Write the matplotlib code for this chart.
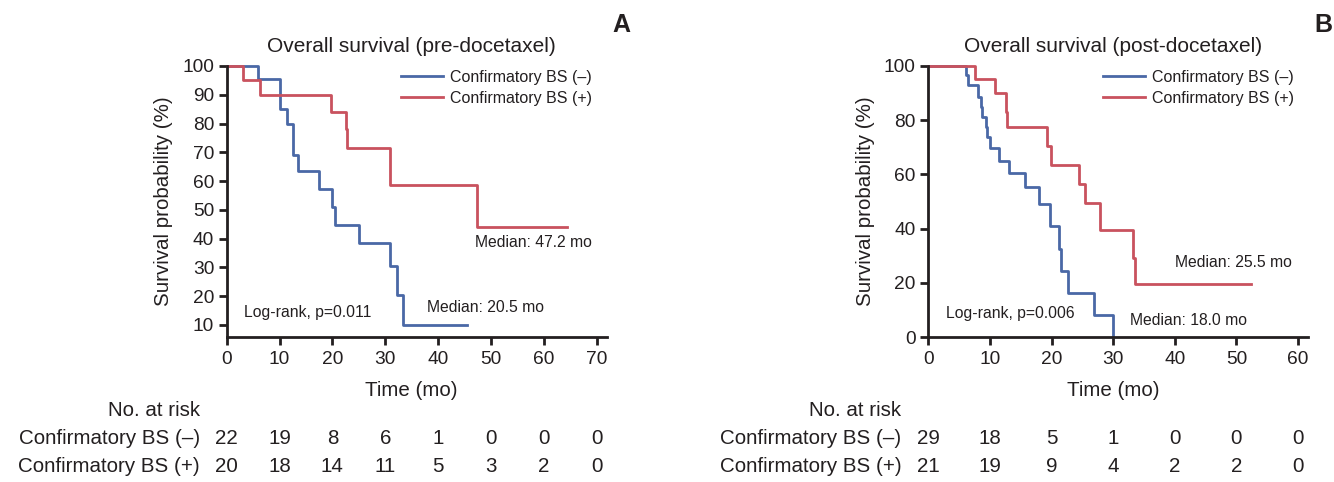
import matplotlib
matplotlib.use("Agg")
import matplotlib.pyplot as plt
from matplotlib.transforms import blended_transform_factory

plt.rcParams['font.family'] = ['Liberation Sans', 'DejaVu Sans']

# ---------------- data ----------------
groups = ["Confirmatory BS (\u2013)", "Confirmatory BS (+)"]

# Panel A (pre-docetaxel)
a_neg_t = [0, 6.0, 10.1, 11.35, 12.5, 12.6, 13.4, 17.5, 19.9, 20.4, 25.1, 30.8, 32.2, 33.3, 45.4]
a_neg_s = [100, 95.5, 85, 80, 74, 69, 63.6, 57.3, 51.1, 44.8, 38.4, 30.5, 20.3, 10, 10]
a_pos_t = [0, 3.1, 6.3, 19.7, 22.5, 22.8, 30.8, 47.3, 64.3]
a_pos_s = [100, 95, 90, 84.1, 78, 71.6, 58.6, 43.9, 43.9]
a_risk_t = [0, 10, 20, 30, 40, 50, 60, 70]
a_risk_neg = [22, 19, 8, 6, 1, 0, 0, 0]
a_risk_pos = [20, 18, 14, 11, 5, 3, 2, 0]
a_yticks = [10, 20, 30, 40, 50, 60, 70, 80, 90, 100]

# Panel B (post-docetaxel)
b_neg_t = [0, 6.1, 6.4, 8.1, 8.5, 8.65, 9.3, 9.5, 10.0, 11.5, 13.1, 15.7, 17.95, 19.7, 21.2, 21.6, 22.7, 26.9, 30.0]
b_neg_s = [100, 96.6, 93.1, 88.7, 85, 81, 77.6, 73.7, 69.6, 65.0, 60.7, 55.4, 49.0, 40.9, 32.6, 24.4, 16.4, 8.0, 0]
b_pos_t = [0, 7.6, 10.8, 12.55, 12.8, 19.2, 19.85, 24.4, 25.4, 27.8, 33.25, 33.5, 52.3]
b_pos_s = [100, 95.2, 90.0, 83.1, 77.6, 70.4, 63.4, 56.3, 49.3, 39.4, 29.3, 19.7, 19.7]
b_risk_t = [0, 10, 20, 30, 40, 50, 60]
b_risk_neg = [29, 18, 5, 1, 0, 0, 0]
b_risk_pos = [21, 19, 9, 4, 2, 2, 0]
b_yticks = [0, 20, 40, 60, 80, 100]

# ---------------- style ----------------
W, H = 1334, 482
BLUE = "#4a68a6"
RED = "#c9525e"
DARK = "#231f20"
FS_TITLE = 15
FS_TICK = 13.8
FS_LAB = 14.8
FS_RISK = 14.8
FS_NOTE = 11.3
FS_LEG = 11.5

fig = plt.figure(figsize=(W / 100, H / 100), dpi=100)


def fx(px):
    return px / W


def fy(py):
    return 1 - py / H


def panel(left_px, right_px, xmax, ylo, xt, neg_t, neg_s, pos_t, pos_s, yticks,
          title, letter, letter_px, texts, risk_t, risk_neg, risk_pos, leg_px, ylab_px):
    top_px, bot_px = 66, 337
    ax = fig.add_axes([fx(left_px), fy(bot_px), (right_px - left_px) / W, (bot_px - top_px) / H])
    ax.step(neg_t, neg_s, where="post", color=BLUE, lw=2.0, clip_on=False, label=groups[0])
    ax.step(pos_t, pos_s, where="post", color=RED, lw=2.0, clip_on=False, label=groups[1])
    ax.set_xlim(0, xmax)
    ax.set_ylim(ylo, 100)
    ax.set_xticks(xt)
    ax.set_yticks(yticks)
    for s in ["top", "right"]:
        ax.spines[s].set_visible(False)
    for s in ["left", "bottom"]:
        ax.spines[s].set_linewidth(2.0)
        ax.spines[s].set_color(DARK)
    ax.spines["left"].set_bounds(ylo, 100)
    ax.tick_params(axis="both", direction="out", length=6, width=2.0, color=DARK,
                   labelsize=FS_TICK, labelcolor=DARK)
    ax.tick_params(axis="y", pad=3)
    ax.tick_params(axis="x", pad=4)
    xmid = (xt[0] + xt[-1]) / 2
    btr = blended_transform_factory(ax.transData, fig.transFigure)
    ax.text(xmid, fy(47), title, transform=btr, ha="center", va="center",
            fontsize=FS_TITLE, color=DARK)
    ax.text(xmid, fy(390), "Time (mo)", transform=btr, ha="center", va="center",
            fontsize=FS_LAB, color=DARK)
    fig.text(fx(letter_px), fy(25), letter, ha="center", va="center", fontsize=18,
             fontweight="bold", color=DARK)
    ax.set_ylabel("Survival probability (%)", fontsize=FS_LAB, color=DARK)
    ax.yaxis.set_label_coords(-(left_px - ylab_px) / (right_px - left_px), 0.5)
    for (x, y, s) in texts:
        ax.text(x, y, s, ha="left", va="center", fontsize=FS_NOTE, color=DARK)
    leg = ax.legend(loc="upper left", bbox_to_anchor=(fx(leg_px), fy(70)),
                    bbox_transform=fig.transFigure, frameon=False, fontsize=FS_LEG,
                    handlelength=2.6, handletextpad=0.45, labelspacing=0.35,
                    borderpad=0, borderaxespad=0)
    for t in leg.get_texts():
        t.set_color(DARK)
    # risk table
    lab_x = left_px - 27
    fig.text(fx(lab_x), fy(410), "No. at risk", ha="right", va="center", fontsize=FS_RISK, color=DARK)
    fig.text(fx(lab_x), fy(438), groups[0], ha="right", va="center", fontsize=FS_RISK, color=DARK)
    fig.text(fx(lab_x), fy(466), groups[1], ha="right", va="center", fontsize=FS_RISK, color=DARK)
    for t, n in zip(risk_t, risk_neg):
        ax.text(t, fy(438), str(n), transform=btr, ha="center", va="center",
                fontsize=FS_RISK, color=DARK)
    for t, n in zip(risk_t, risk_pos):
        ax.text(t, fy(466), str(n), transform=btr, ha="center", va="center",
                fontsize=FS_RISK, color=DARK)
    return ax


panel(226.7, 607.3, 72, 5.8, a_risk_t, a_neg_t, a_neg_s, a_pos_t, a_pos_s, a_yticks,
      "Overall survival (pre-docetaxel)", "A", 621,
      [(47.0, 38.5, "Median: 47.2 mo"), (37.9, 16.0, "Median: 20.5 mo"),
       (3.3, 14.2, "Log-rank, p=0.011")],
      a_risk_t, a_risk_neg, a_risk_pos, 401, 173)

panel(928.3, 1308, 61.6, 0, b_risk_t, b_neg_t, b_neg_s, b_pos_t, b_pos_s, b_yticks,
      "Overall survival (post-docetaxel)", "B", 1323,
      [(40.0, 27.6, "Median: 25.5 mo"), (32.7, 6.2, "Median: 18.0 mo"),
       (2.8, 8.8, "Log-rank, p=0.006")],
      b_risk_t, b_risk_neg, b_risk_pos, 1103, 875)

fig.savefig("out.png", dpi=100)
